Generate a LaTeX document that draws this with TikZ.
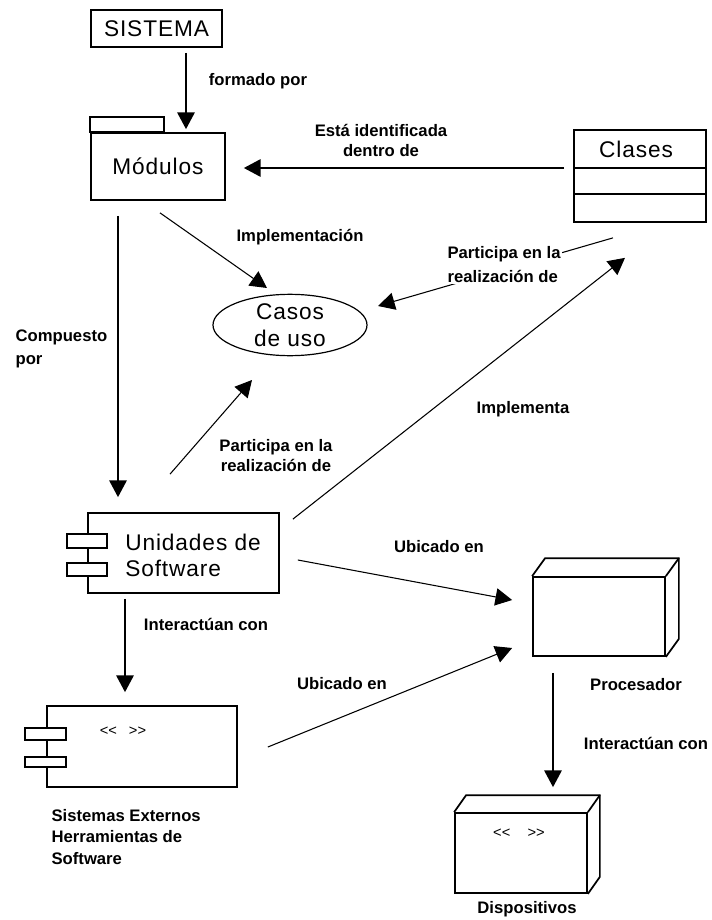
\documentclass[tikz,border=0pt]{standalone}
\usepackage{fontspec}
\setmainfont{Liberation Sans}
\newfontfamily\bigfont[LetterSpace=4]{Liberation Sans}
\usetikzlibrary{arrows.meta,calc,shapes.geometric}
\begin{document}
\begin{tikzpicture}[x=0.75pt,y=-0.75pt,
  box/.style={draw,line width=1.3pt,inner sep=0pt,fill=white},
  big/.style={font=\bigfont\fontsize{17}{21}\selectfont},
  lbl/.style={font=\fontsize{12.5}{15}\selectfont\bfseries,inner sep=1pt},
  small/.style={font=\fontsize{11}{12}\selectfont,inner sep=0pt},
  arr/.style={line width=1.2pt,-{Triangle[length=12.5pt,width=13pt]}},
  darr/.style={line width=0.8pt,-{Triangle[length=12.5pt,width=13pt]}},
  part/.style={draw,line width=1.2pt,fill=white}]
\useasboundingbox[fill=white] (0,0) rectangle (711,920);

% nodes
\node[box,big,minimum width=98.25pt,minimum height=27.75pt] (sis) at (156.5,28.5) {SISTEMA};
\node[box,big,minimum width=100.5pt,minimum height=50.25pt] (mod) at (158,166.5) {Módulos};
\draw[part] (mod.north west) rectangle ++(74,-15);
\node[box,minimum width=99pt,minimum height=69pt] (cla) at (640,176) {};
\draw[line width=1.3pt] ($(cla.north west)+(0,39)$) -- ($(cla.north east)+(0,39)$);
\draw[line width=1.3pt] ($(cla.north west)+(0,65)$) -- ($(cla.north east)+(0,65)$);
\node[big,inner sep=0pt] (clatxt) at (636,149) {Clases};
\node[draw,ellipse,line width=0.9pt,minimum width=115.5pt,minimum height=42pt,inner sep=0pt,big,align=center,font=\bigfont\fontsize{17}{20.5}\selectfont] (cas) at (290,325) {Casos\\de uso};

\node[box,minimum width=143.25pt,minimum height=60pt] (uni) at (183.5,553) {};
\draw[part] ($(uni.west)+(-20,-19)$) rectangle ($(uni.west)+(20,-5)$);
\draw[part] ($(uni.west)+(-20,10)$) rectangle ($(uni.west)+(20,23)$);
\node[big,align=left,anchor=west,inner sep=0pt,font=\bigfont\fontsize{17}{19.5}\selectfont] (unitxt) at (125,555) {Unidades de\\Software};

\node[box,minimum width=142.5pt,minimum height=60.75pt] (sisx) at (142,746.5) {};
\draw[part] ($(sisx.west)+(-21,-18.5)$) rectangle ($(sisx.west)+(20,-6.5)$);
\draw[part] ($(sisx.west)+(-21,10.5)$) rectangle ($(sisx.west)+(20,20.5)$);
\node[small] (sisxst) at (123,731) {<\kern0pt<\hspace{9pt}>\kern0pt>};
\node[lbl,align=left,anchor=west,font=\fontsize{12.5}{16}\selectfont\bfseries] (sisxlbl) at (50,837) {Sistemas Externos\\Herramientas de\\Software};

\node[box,minimum width=99pt,minimum height=59.25pt] (pro) at (599,616.5) {};
\draw[line width=1.3pt] (pro.north west) -- ++(13,-18) -| ($(pro.south east)+(13,-18)$) -- (pro.south east);
\draw[line width=1.3pt] (pro.north east) -- ++(13,-18);
\node[lbl] (prolbl) at (636,685) {Procesador};

\node[box,minimum width=99pt,minimum height=60pt] (dis) at (521,853) {};
\draw[line width=1.3pt] (dis.north west) -- ++(12,-17) -| ($(dis.south east)+(12,-17)$) -- (dis.south east);
\draw[line width=1.3pt] (dis.north east) -- ++(12,-17);
\node[small] (disst) at (519,833) {<\kern0pt<\hspace{13pt}>\kern0pt>};
\node[lbl] (dislbl) at (527,909) {Dispositivos};

% connectors
\draw[arr] ([shift={(29.5,5)}]sis.south) -- ([shift={(28,-3)}]mod.north);
\node[lbl] (l1) at (258,81) {formado por};

\draw[arr] ([shift={(-9,-8)}]cla.west) -- ([shift={(18,1.5)}]mod.east);
\node[lbl,align=center] (l2) at (381,140) {Está identificada\\dentro de};

\draw[darr] ([shift={(2,12)}]mod.south) -- ([shift={(-23,-37)}]cas.center);
\node[lbl] (l3) at (300,237) {Implementación};

\draw[darr] ([shift={(-27,15)}]cla.south) -- ([shift={(88,-19)}]cas.center);
\node[lbl,align=left,anchor=west,fill=white,font=\fontsize{12.5}{18}\selectfont\bfseries] (l4) at (446,265) {Participa en la\\realización de};

\draw[arr] ([shift={(-40,15)}]mod.south) -- ([shift={(-65.5,-15)}]uni.north);
\node[lbl,align=left,anchor=west,font=\fontsize{12.5}{17}\selectfont\bfseries] (l5) at (14,349) {Compuesto\\por};

\draw[darr] ([shift={(-13.5,-38)}]uni.north) -- ([shift={(-38,55)}]cas.center);
\node[lbl,align=center] (l6) at (276,456) {Participa en la\\realización de};

\draw[darr] ([shift={(13,7)}]uni.north east) -- ([shift={(-15,35)}]cla.south);
\node[lbl] (l7) at (523,409) {Implementa};

\draw[darr] ([shift={(18,7)}]uni.east) -- ([shift={(-20,-16.5)}]pro.west);
\node[lbl] (l8) at (439,547) {Ubicado en};

\draw[arr] ([shift={(-58.5,5)}]uni.south) -- ([shift={(-17,-13)}]sisx.north);
\node[lbl] (l9) at (206,624) {Interactúan con};

\draw[darr] ([shift={(30,0.5)}]sisx.east) -- ([shift={(-20,31.5)}]pro.west);
\node[lbl] (l10) at (342,684) {Ubicado en};

\draw[arr] ([shift={(-46,16)}]pro.south) -- ([shift={(32,-25)}]dis.north);
\node[lbl] (l11) at (646,743) {Interactúan con};
\end{tikzpicture}
\end{document}
